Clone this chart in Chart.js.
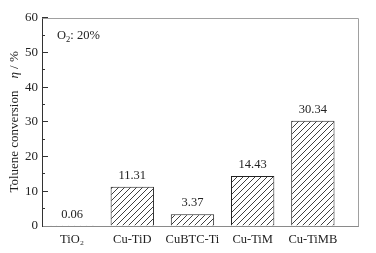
<!DOCTYPE html>
<html><head><meta charset="utf-8">
<script src="https://cdn.jsdelivr.net/npm/chart.js@4.4.1/dist/chart.umd.min.js"></script>
<style>html,body{margin:0;padding:0;background:#fff}#wrap{width:376px;height:253px}</style>
</head><body><div id="wrap"><canvas id="c" width="376" height="253"></canvas></div>
<script>
const categories = ["TiO\u2082", "Cu-TiD", "CuBTC-Ti", "Cu-TiM", "Cu-TiMB"];
const conversion = [0.06, 11.31, 3.37, 14.43, 30.34];
const valueLabels = ["0.06", "11.31", "3.37", "14.43", "30.34"];
const yTicks = [0, 10, 20, 30, 40, 50, 60];
const yTitleMain = "Toluene conversion";
const yTitleSym = "\u03B7";
const yTitleUnit = " / %";
const noteBase = "O", noteSub = "2", noteRest = ": 20%";

const FONT = "'Liberation Serif', 'Times New Roman', serif";

function hatch() {
  const s = 6, c = document.createElement('canvas');
  c.width = s; c.height = s;
  const g = c.getContext('2d');
  g.fillStyle = '#fff'; g.fillRect(0, 0, s, s);
  g.strokeStyle = '#2a2a2a'; g.lineWidth = 0.9;
  g.beginPath();
  g.moveTo(0, s); g.lineTo(s, 0);
  g.moveTo(-1, 1); g.lineTo(1, -1);
  g.moveTo(s - 1, s + 1); g.lineTo(s + 1, s - 1);
  g.stroke();
  return g.createPattern(c, 'repeat');
}

const decor = {
  id: 'decor',
  beforeDatasetsDraw(chart) {
    const a = chart.chartArea, ctx = chart.ctx;
    ctx.save();
    ctx.strokeStyle = '#a0a0a0'; ctx.lineWidth = 1;
    ctx.beginPath();
    ctx.moveTo(Math.round(a.left) + 0.5, Math.round(a.top) + 0.5);
    ctx.lineTo(Math.round(a.right) + 0.5, Math.round(a.top) + 0.5);
    ctx.lineTo(Math.round(a.right) + 0.5, Math.round(a.bottom) + 0.5);
    ctx.stroke();
    ctx.restore();
  },
  afterDatasetsDraw(chart) {
    const ctx = chart.ctx, a = chart.chartArea;
    ctx.save();
    ctx.fillStyle = '#222';
    ctx.font = "12.5px " + FONT;
    ctx.textAlign = 'center'; ctx.textBaseline = 'bottom';
    chart.getDatasetMeta(0).data.forEach((bar, i) => {
      ctx.fillText(valueLabels[i], bar.x, bar.y - 5);
    });
    ctx.textAlign = 'left'; ctx.textBaseline = 'alphabetic';
    ctx.font = "12.5px " + FONT;
    let x = a.left + 15, y = a.top + 21;
    ctx.fillText(noteBase, x, y); x += ctx.measureText(noteBase).width;
    ctx.font = "8.5px " + FONT;
    ctx.fillText(noteSub, x, y + 3); x += ctx.measureText(noteSub).width;
    ctx.font = "12.5px " + FONT;
    ctx.fillText(noteRest, x, y);
    ctx.translate(18, (a.top + a.bottom) / 2);
    ctx.rotate(-Math.PI / 2);
    ctx.font = "13px " + FONT;
    const w1 = ctx.measureText(yTitleMain).width;
    ctx.font = "italic 13px " + FONT;
    const w2 = ctx.measureText(yTitleSym).width;
    ctx.font = "13px " + FONT;
    const w3 = ctx.measureText(yTitleUnit).width;
    const gap = 12;
    let t = -(w1 + gap + w2 + w3) / 2;
    ctx.fillText(yTitleMain, t, 0); t += w1 + gap;
    ctx.font = "italic 13px " + FONT;
    ctx.fillText(yTitleSym, t, 0); t += w2;
    ctx.font = "13px " + FONT;
    ctx.fillText(yTitleUnit, t, 0);
    ctx.restore();
  }
};

new Chart(document.getElementById('c'), {
  type: 'bar',
  data: {
    datasets: [{
      data: conversion.map((v, i) => ({ x: i, y: v })),
      backgroundColor: hatch(),
      borderColor: '#222',
      borderWidth: 1,
      barPercentage: 0.8,
      categoryPercentage: 0.9
    }]
  },
  options: {
    responsive: false,
    animation: false,
    devicePixelRatio: 1,
    layout: { padding: { left: 0, right: 18, top: 17, bottom: 0 } },
    plugins: { legend: { display: false }, tooltip: { enabled: false } },
    scales: {
      x: {
        type: 'linear', min: -0.5, max: 4.75, offset: false,
        grid: { display: false, drawTicks: false, offset: false },
        border: { display: true, color: '#8a8a8a', width: 1 },
        afterBuildTicks: s => { s.ticks = categories.map((_, i) => ({ value: i })); },
        afterFit: s => { s.height = 27; },
        ticks: {
          padding: 6, color: '#222', maxRotation: 0, autoSkip: false,
          font: { family: FONT, size: 12.5 },
          callback: v => categories[v] ?? ''
        }
      },
      y: {
        min: 0, max: 60, weight: 1,
        afterBuildTicks: s => { s.ticks = yTicks.map(v => ({ value: v })); },
        afterFit: s => { s.width = 42; },
        grid: { drawOnChartArea: false, tickLength: -6, color: '#333', tickWidth: 1 },
        border: { display: true, color: '#333', width: 1 },
        ticks: { padding: 10, color: '#222', font: { family: FONT, size: 13 } }
      },
      yMinor: {
        position: 'left', min: 0, max: 60, weight: 0,
        afterBuildTicks: s => { s.ticks = yTicks.slice(0, -1).map(v => ({ value: v + 5 })); },
        afterFit: s => { s.width = 0; },
        grid: { drawOnChartArea: false, tickLength: -3, color: '#333', tickWidth: 1 },
        border: { display: false },
        ticks: { display: false }
      }
    }
  },
  plugins: [decor]
});
</script></body></html>
